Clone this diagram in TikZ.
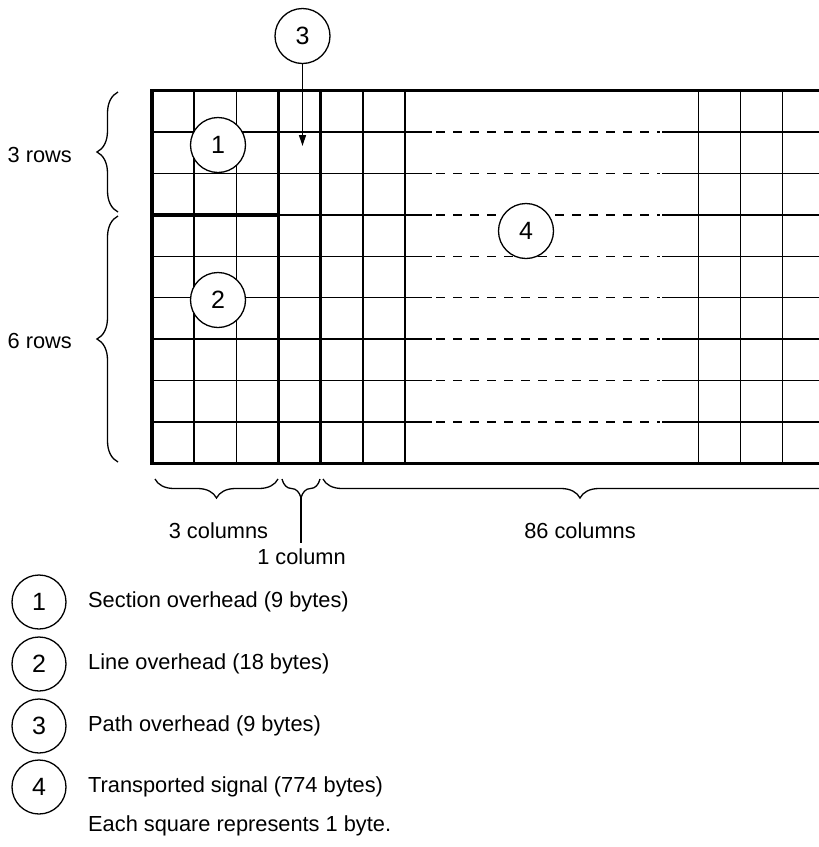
\documentclass[tikz,border=0pt]{standalone}
\usepackage{fontspec}
\setmainfont{Liberation Sans}
\usetikzlibrary{arrows.meta,decorations.pathreplacing}
\begin{document}
\begin{tikzpicture}[x=1pt,y=-1pt,
  gridthin/.style={line width=1.5pt},
  gridthick/.style={line width=3.5pt,line join=miter},
  numcirc/.style={circle,draw,line width=1.3pt,fill=white,minimum size=55pt,inner sep=0pt,font=\fontsize{25}{25}\selectfont},
  lbl/.style={inner sep=0pt,font=\fontsize{21.8}{25}\selectfont},
  bracepath/.style={line width=1.3pt,decorate,decoration={brace,amplitude=#1}}
]
\clip (0,0) rectangle (819,847);
% thin grid
\foreach \x in {194.2,236.3,362.8,405,698.3,740.5,782.7}
  \draw[gridthin] (\x,90.7) -- (\x,463.3);
\foreach \i in {1,...,8} {
  \pgfmathsetmacro\yy{90.7+41.4*\i}
  \draw[gridthin] (152,\yy) -- (432,\yy);
  \draw[gridthin,dash pattern=on 9pt off 8pt] (436,\yy) -- (660,\yy);
  \draw[gridthin] (662,\yy) -- (840,\yy);
}
% thick lines
\draw[gridthick] (840,90.7) -- (152,90.7) -- (152,463.3) -- (840,463.3);
\draw[gridthick] (278.5,90.7) -- (278.5,463.3);
\draw[gridthick] (320.7,90.7) -- (320.7,463.3);
\draw[gridthick] (152,214.9) -- (278.5,214.9);
% circles in grid
\node[numcirc] (c1) at (218,145) {1};
\node[numcirc] (c2) at (218,300) {2};
\node[numcirc] (c3) at (302.5,36) {3};
\node[numcirc] (c4) at (526,231) {4};
\coordinate (a3) at (302.5,146);
\draw[line width=1.3pt,-{Triangle[length=11pt,width=7pt]}] (c3.south) -- (a3);
% left braces
\draw[bracepath=21] (118,212) -- (118,92);
\node[lbl,anchor=east] (rows3) at (72,155) {3 rows};
\draw[bracepath=21] (118,462) -- (118,216);
\node[lbl,anchor=east] (rows6) at (72,341) {6 rows};
% bottom braces
\draw[bracepath=19] (278,479) -- (155,479);
\node[lbl] (cols3) at (218.5,531) {3 columns};
\draw[bracepath=19] (320,479) -- (282,479);
\coordinate (b2tip) at (301,498);
\coordinate (b2end) at (301,543);
\draw[line width=1.3pt] (b2tip) -- (b2end);
\node[lbl] (cols1) at (301.5,557) {1 column};
\draw[bracepath=19] (837,479) -- (323,479);
\node[lbl] (cols86) at (580,531) {86 columns};
% legend
\node[numcirc,minimum size=54pt] (l1) at (39,602) {1};
\node[numcirc,minimum size=54pt] (l2) at (39,664) {2};
\node[numcirc,minimum size=54pt] (l3) at (39,726) {3};
\node[numcirc,minimum size=54pt] (l4) at (39,787) {4};
\node[lbl,anchor=west] (t1) at (88,602) {Section overhead (9 bytes)};
\node[lbl,anchor=west] (t2) at (88,664) {Line overhead (18 bytes)};
\node[lbl,anchor=west] (t3) at (88,726) {Path overhead (9 bytes)};
\node[lbl,anchor=west] (t4) at (88,787) {Transported signal (774 bytes)};
\node[lbl,anchor=west] (t5) at (88,826) {Each square represents 1 byte.};
\end{tikzpicture}
\end{document}
